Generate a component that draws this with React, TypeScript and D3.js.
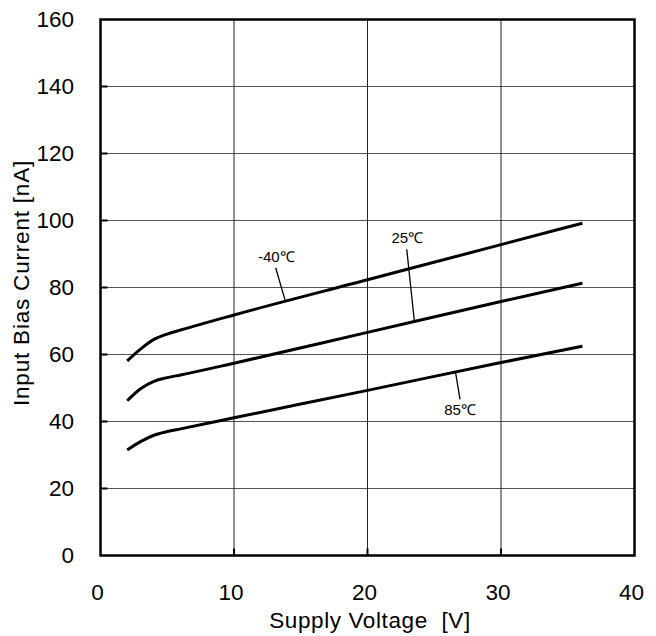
import React from "react";
import * as d3 from "d3";

const voltage = [2.0, 3, 4, 5, 6, 10, 20, 30, 36.1];
const currentM40 = [58.1, 61.6, 64.5, 66.1, 67.3, 71.8, 82.3, 92.8, 99.2];
const current25 = [46.2, 49.8, 52.0, 53.1, 53.9, 57.4, 66.6, 75.8, 81.3];
const current85 = [31.5, 34.0, 35.9, 37.0, 37.8, 41.1, 49.3, 57.6, 62.5];

const xTicks = [0, 10, 20, 30, 40];
const yTicks = [0, 20, 40, 60, 80, 100, 120, 140, 160];

const seriesLabels = ["-40℃", "25℃", "85℃"];
const labelPos = [
  [11.8, 87.6],
  [21.8, 93.4],
  [25.75, 41.9],
];
const leaderFrom = [
  [13.12, 85.9],
  [22.94, 91.4],
  [26.6, 54.6],
];
const leaderTo = [
  [13.82, 76.3],
  [23.5, 70.3],
  [26.93, 46.6],
];

const W = 656;
const H = 636;
const left = 100.5;
const right = 634.5;
const top = 19.5;
const bottom = 555.5;

export default function App() {
  const x = d3.scaleLinear().domain([0, 40]).range([left, right]);
  const y = d3.scaleLinear().domain([0, 160]).range([bottom, top]);
  const line = d3
    .line<[number, number]>()
    .x((d) => x(d[0]))
    .y((d) => y(d[1]))
    .curve(d3.curveMonotoneX);
  const series = [currentM40, current25, current85];
  const font = "Liberation Sans";

  return (
    <svg
      width={W}
      height={H}
      style={{ position: "absolute", left: 0, top: 0, background: "#fff" }}
    >
      <rect x={0} y={0} width={W} height={H} fill="#fff" />
      {yTicks.slice(1, -1).map((t) => (
        <line key={"gy" + t} x1={left} x2={right} y1={y(t)} y2={y(t)} stroke="#555" strokeWidth={1} />
      ))}
      {xTicks.slice(1, -1).map((t) => (
        <line key={"gx" + t} x1={x(t)} x2={x(t)} y1={top} y2={bottom} stroke="#222" strokeWidth={1} />
      ))}
      {yTicks.slice(1, -1).map((t) => (
        <line key={"ty" + t} x1={left} x2={left + 7} y1={y(t)} y2={y(t)} stroke="#000" strokeWidth={2} />
      ))}
      {xTicks.slice(1, -1).map((t) => (
        <line key={"tx" + t} x1={x(t)} x2={x(t)} y1={bottom} y2={bottom - 7} stroke="#000" strokeWidth={2} />
      ))}
      <rect x={left} y={top} width={right - left} height={bottom - top} fill="none" stroke="#000" strokeWidth={2.5} />
      {series.map((s, i) => (
        <path
          key={"s" + i}
          d={line(voltage.map((v, j) => [v, s[j]] as [number, number])) || ""}
          fill="none"
          stroke="#000"
          strokeWidth={3}
        />
      ))}
      {seriesLabels.map((lab, i) => (
        <g key={"l" + i}>
          <line
            x1={x(leaderFrom[i][0])}
            y1={y(leaderFrom[i][1])}
            x2={x(leaderTo[i][0])}
            y2={y(leaderTo[i][1])}
            stroke="#000"
            strokeWidth={1.3}
          />
          <text x={x(labelPos[i][0])} y={y(labelPos[i][1])} fontFamily={font} fontSize={15} fill="#000">
            {lab}
          </text>
        </g>
      ))}
      {yTicks.map((t) => (
        <text
          key={"ly" + t}
          x={74}
          y={y(t) + 7.5}
          textAnchor="end"
          fontFamily={font}
          fontSize={22.5}
          fill="#000"
        >
          {t}
        </text>
      ))}
      {xTicks.map((t) => (
        <text key={"lx" + t} x={x(t) - 3} y={600} textAnchor="middle" fontFamily={font} fontSize={22.5} fill="#000">
          {t}
        </text>
      ))}
      <text
        x={370}
        y={628}
        textAnchor="middle"
        fontFamily={font}
        fontSize={22.5}
        letterSpacing={0.6}
        fill="#000"
        xmlSpace="preserve"
      >
        {"Supply Voltage  [V]"}
      </text>
      <text
        transform={`translate(28.5, 283) rotate(-90)`}
        textAnchor="middle"
        fontFamily={font}
        fontSize={22.5}
        letterSpacing={0.8}
        fill="#000"
      >
        Input Bias Current [nA]
      </text>
    </svg>
  );
}
